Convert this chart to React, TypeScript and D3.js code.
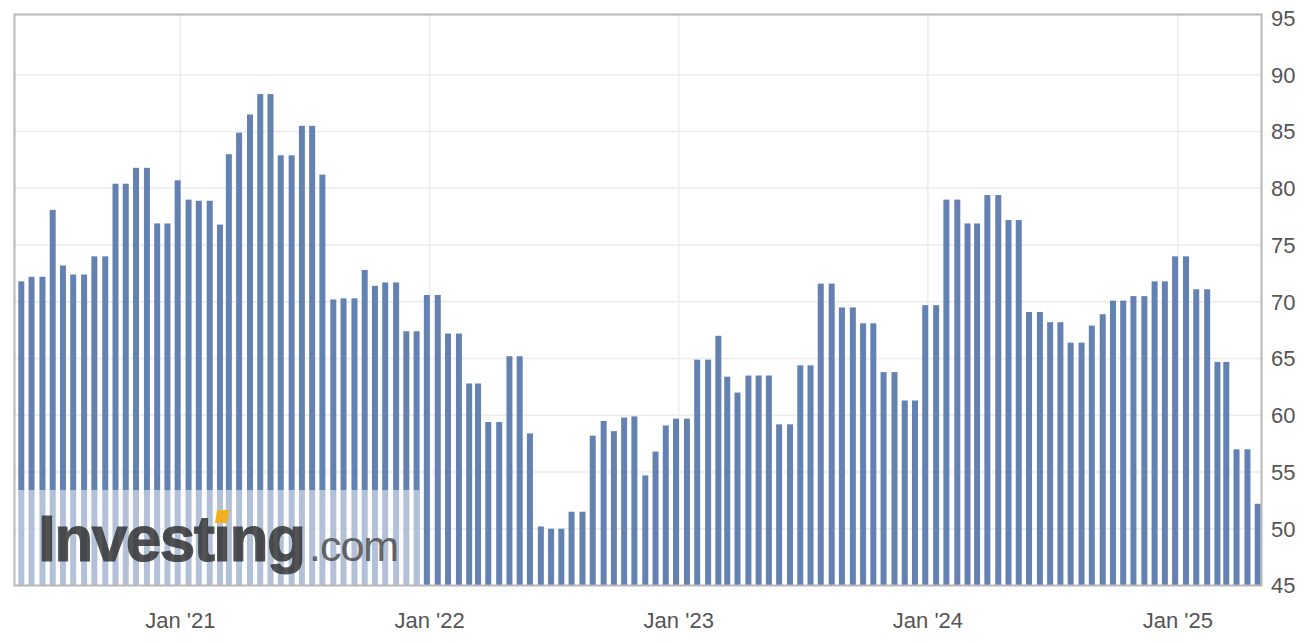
import * as d3 from "d3";

const WIDTH = 1312;
const HEIGHT = 643;
const PLOT = { left: 14.5, right: 1261.5, top: 14.5, bottom: 585.5 };

// two readings per month (preliminary / final), starting May 2020
const START_YEAR = 2020;
const START_MONTH = 4; // May
const RELEASE_DAYS = [13, 28];

const values2020 = [71.8, 72.2, 72.2, 78.1, 73.2, 72.4, 72.4, 74.0, 74.0, 80.4, 80.4, 81.8, 81.8, 76.9, 76.9, 80.7];
const values2021 = [
  79.0, 78.9, 78.9, 76.8, 83.0, 84.9, 86.5, 88.3, 88.3, 82.9, 82.9, 85.5,
  85.5, 81.2, 70.2, 70.3, 70.3, 72.8, 71.4, 71.7, 71.7, 67.4, 67.4, 70.6,
];
const values2022 = [
  70.6, 67.2, 67.2, 62.8, 62.8, 59.4, 59.4, 65.2, 65.2, 58.4, 50.2, 50.0,
  50.0, 51.5, 51.5, 58.2, 59.5, 58.6, 59.8, 59.9, 54.7, 56.8, 59.1, 59.7,
];
const values2023 = [
  59.7, 64.9, 64.9, 67.0, 63.4, 62.0, 63.5, 63.5, 63.5, 59.2, 59.2, 64.4,
  64.4, 71.6, 71.6, 69.5, 69.5, 68.1, 68.1, 63.8, 63.8, 61.3, 61.3, 69.7,
];
const values2024 = [
  69.7, 79.0, 79.0, 76.9, 76.9, 79.4, 79.4, 77.2, 77.2, 69.1, 69.1, 68.2,
  68.2, 66.4, 66.4, 67.9, 68.9, 70.1, 70.1, 70.5, 70.5, 71.8, 71.8, 74.0,
];
const values2025 = [74.0, 71.1, 71.1, 64.7, 64.7, 57.0, 57.0, 52.2];

const yTicks = [45, 50, 55, 60, 65, 70, 75, 80, 85, 90, 95];
const xTickYears = [2021, 2022, 2023, 2024, 2025];
const xTickLabels = ["Jan '21", "Jan '22", "Jan '23", "Jan '24", "Jan '25"];

const allValues = [...values2020, ...values2021, ...values2022, ...values2023, ...values2024, ...values2025];

const data = allValues.map((value, i) => ({
  date: new Date(START_YEAR, START_MONTH + Math.floor(i / 2), RELEASE_DAYS[i % 2]),
  value,
}));

const BAR_COLOR = "#6482b1";
const BAR_WIDTH = 6;
const LABEL_FONT = "'Liberation Sans', Arial, sans-serif";

export default function App() {
  const xScale = d3
    .scaleTime()
    .domain(d3.extent(data, (d) => d.date) as [Date, Date])
    .range([21.3, 1257.7]);

  const yScale = d3.scaleLinear().domain([45, 95]).range([PLOT.bottom, 18]);

  return (
    <svg
      width={WIDTH}
      height={HEIGHT}
      style={{ position: "absolute", left: 0, top: 0, background: "#fff" }}
      fontFamily={LABEL_FONT}
    >
      {/* horizontal grid */}
      {yTicks.slice(1, -1).map((t) => (
        <line
          key={t}
          x1={PLOT.left}
          x2={PLOT.right}
          y1={yScale(t)}
          y2={yScale(t)}
          stroke="#ececec"
          strokeWidth={1.5}
        />
      ))}
      {/* vertical grid */}
      {xTickYears.map((yr) => (
        <line
          key={yr}
          x1={xScale(new Date(yr, 0, 1))}
          x2={xScale(new Date(yr, 0, 1))}
          y1={PLOT.top}
          y2={PLOT.bottom}
          stroke="#ececec"
          strokeWidth={1.5}
        />
      ))}

      {/* bars */}
      {data.map((d, i) => (
        <rect
          key={i}
          x={xScale(d.date) - BAR_WIDTH / 2}
          y={yScale(d.value)}
          width={BAR_WIDTH}
          height={PLOT.bottom - yScale(d.value)}
          fill={BAR_COLOR}
        />
      ))}

      {/* watermark */}
      <rect x={PLOT.left} y={490} width={405} height={PLOT.bottom - 490} fill="#fff" opacity={0.5} />
      <text x={38} y={561} opacity={0.82}>
        <tspan
          fontSize={64}
          fontWeight="bold"
          fill="#2e2e2e"
          stroke="#2e2e2e"
          strokeWidth={1.2}
          letterSpacing={-1.6}
        >
          Investing
        </tspan>
        <tspan x={309} fontSize={43} fill="#4a4a4a" letterSpacing={-1}>
          .com
        </tspan>
      </text>
      <polygon points="217,510 229,510 227,523 215,523" fill="#f0b020" />

      {/* frame */}
      <rect
        x={PLOT.left}
        y={PLOT.top}
        width={PLOT.right - PLOT.left}
        height={PLOT.bottom - PLOT.top}
        fill="none"
        stroke="#b8b8b8"
        strokeWidth={2}
      />

      {/* y axis labels */}
      {yTicks.map((t) => (
        <text key={t} x={1271} y={yScale(t)} dy="0.36em" fontSize={22} fill="#555">
          {t}
        </text>
      ))}

      {/* x axis labels */}
      {xTickYears.map((yr, i) => (
        <text
          key={yr}
          x={xScale(new Date(yr, 0, 1))}
          y={628}
          textAnchor="middle"
          fontSize={22}
          fill="#555"
        >
          {xTickLabels[i]}
        </text>
      ))}
    </svg>
  );
}
